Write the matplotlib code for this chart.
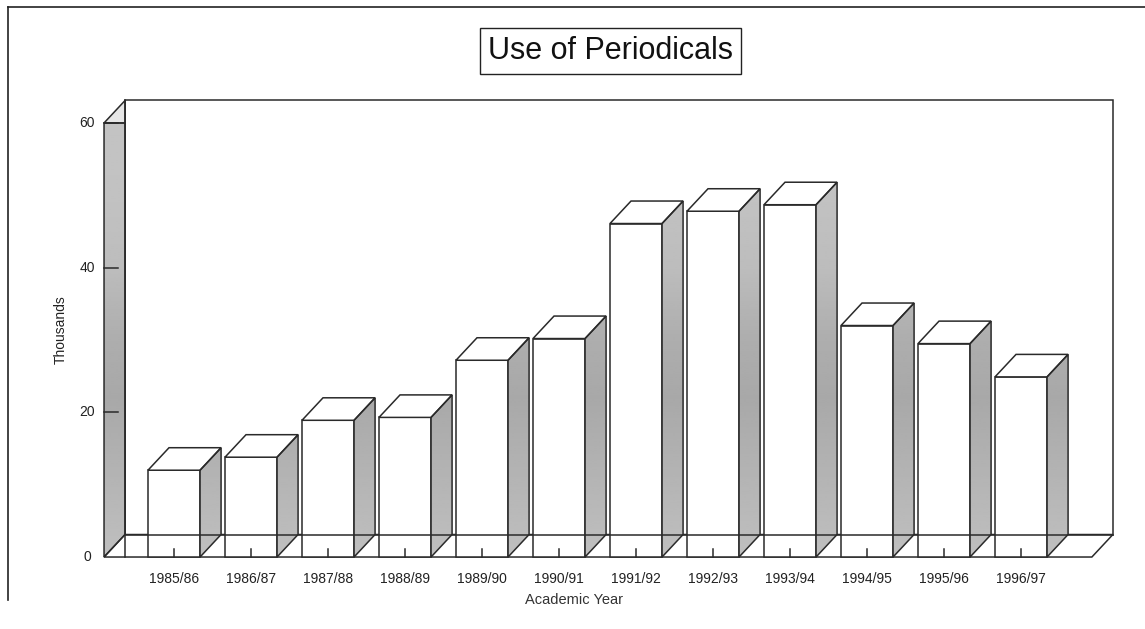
import numpy as np
import matplotlib.pyplot as plt
from matplotlib.patches import Polygon

years = ['1985/86', '1986/87', '1987/88', '1988/89', '1989/90', '1990/91',
         '1991/92', '1992/93', '1993/94', '1994/95', '1995/96', '1996/97']
thousands = [12.0, 13.8, 18.9, 19.3, 27.2, 30.2, 46.1, 47.8, 48.7, 32.0, 29.5, 24.9]
yticks = [0, 20, 40, 60]

plt.rcParams['font.family'] = ['Liberation Sans', 'DejaVu Sans']

# fake 3d geometry (data units)
dx, dy = 0.273, 3.11
hw = 0.338
edge = '#2a2a2a'

fig = plt.figure(figsize=(11.45, 6.29), dpi=100)
ax = fig.add_axes([0, 0, 1, 1])
xl, yl = (-2.26, 12.61), (-9.95, 77.0)
ax.set_xlim(*xl)
ax.set_ylim(*yl)
ax.axis('off')

# grey shading used on the side faces, darker band around the middle
yy = np.linspace(yl[0], yl[1], 300)
shade = np.interp(yy, [0, 10, 22, 30, 40, 50, 65], [0.75, 0.71, 0.66, 0.68, 0.74, 0.76, 0.77])
shade_img = np.tile(shade[::-1, None], (1, 2))

x0 = -0.909              # front left corner
x1 = len(years) - 0.08   # front right corner
ymax = yticks[-1]

def poly(pts, fc, z, lw=1.1):
    p = Polygon(pts, closed=True, facecolor=fc, edgecolor=edge, lw=lw, zorder=z)
    ax.add_patch(p)
    return p

def grey_poly(pts, z):
    p = poly(pts, 'none', z + 0.1)
    im = ax.imshow(shade_img, extent=[xl[0], xl[1], yl[0], yl[1]], cmap='gray',
                   vmin=0, vmax=1, aspect='auto', zorder=z, interpolation='bilinear')
    im.set_clip_path(p)

# back wall
poly([(x0 + dx, dy), (x1 + dx, dy), (x1 + dx, ymax + dy), (x0 + dx, ymax + dy)], 'white', 1)
# left wall
grey_poly([(x0, 0), (x0 + dx, dy), (x0 + dx, ymax), (x0, ymax)], 2)
poly([(x0, ymax), (x0 + dx, ymax + dy), (x0 + dx, ymax)], '#e6e6e6', 2)
ax.plot([x0 + dx, x0 + dx], [0, ymax + dy], color=edge, lw=1.1, zorder=3)
# floor
poly([(x0, 0), (x1, 0), (x1 + dx, dy), (x0 + dx, dy)], 'white', 2)

# bars
for i, v in enumerate(thousands):
    l, r = i - hw, i + hw
    poly([(l, 0), (r, 0), (r, v), (l, v)], 'white', 3)
    grey_poly([(r, 0), (r + dx, dy), (r + dx, v + dy), (r, v)], 3)
    poly([(l, v), (r, v), (r + dx, v + dy), (l + dx, v + dy)], 'white', 3)

# back floor edge and tick marks show through the bars
ax.plot([x0 + dx, x1 + dx], [dy, dy], color=edge, lw=1.1, zorder=4)
for i in range(len(years)):
    ax.plot([i, i], [0, 1.1], color=edge, lw=1.1, zorder=4)
    ax.text(i, -3.0, years[i], ha='center', va='center', fontsize=10, color='#222222')

for t in yticks:
    if t > 0:
        ax.plot([x0, x0 + 0.18], [t, t], color=edge, lw=1.1, zorder=4)
    ax.text(x0 - 0.22, t, str(t), ha='center', va='center', fontsize=10, color='#222222')

ax.text(5.2, -6.0, 'Academic Year', ha='center', va='center', fontsize=10.5, color='#333333')
ax.text(-1.47, 31.5, 'Thousands', ha='center', va='center', rotation=90, fontsize=10, color='#222222')

ax.text(5.67, 70.0, 'Use of Periodicals', ha='center', va='center', fontsize=22, color='#111111',
        bbox=dict(boxstyle='square,pad=0.26', facecolor='white', edgecolor='#222222', lw=1.0))

# outer frame (top and left)
fig.add_artist(plt.Line2D([8 / 1145, 1], [1 - 7 / 629, 1 - 7 / 629], color='#222222', lw=1.2))
fig.add_artist(plt.Line2D([8 / 1145, 8 / 1145], [1 - 7 / 629, 1 - 600 / 629], color='#222222', lw=1.2))

fig.savefig('out.png', dpi=100)
